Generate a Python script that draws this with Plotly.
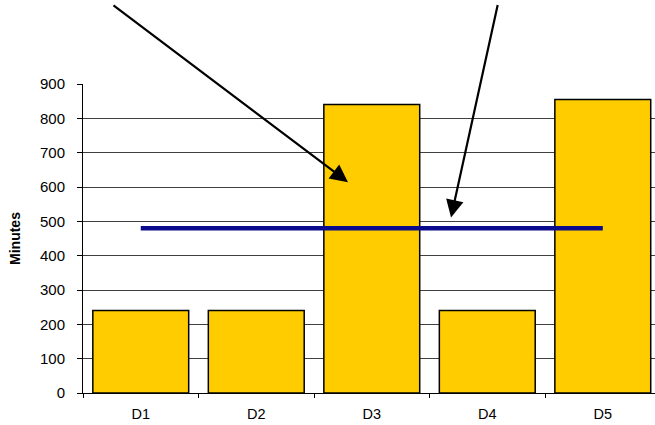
import plotly.graph_objects as go

# Daily minutes per day and the average line
days = ["D1", "D2", "D3", "D4", "D5"]
minutes = [240, 240, 840, 240, 855]
average = [480, 480, 480, 480, 480]

y_ticks = [0, 100, 200, 300, 400, 500, 600, 700, 800, 900]

FONT = "Liberation Sans, Arial, sans-serif"

fig = go.Figure()

fig.add_trace(go.Bar(
    x=days,
    y=minutes,
    marker=dict(color="#FFCC00", line=dict(color="#000000", width=1.5)),
    hoverinfo="x+y",
))

fig.add_trace(go.Scatter(
    x=days,
    y=average,
    mode="lines",
    line=dict(color="#0A0A8C", width=4.5),
    hoverinfo="y",
))

# Callout arrows pointing at the tall bar and at the average line
arrow_style = dict(
    text="", showarrow=True, arrowhead=2, arrowsize=1.6, arrowwidth=2.2,
    arrowcolor="#000000", xref="x", yref="y", axref="pixel", ayref="pixel",
)
fig.add_annotation(x=1.794, y=614, ax=-236, ay=-178, **arrow_style)
fig.add_annotation(x=2.686, y=511, ax=47, ay=-214, **arrow_style)

fig.update_layout(
    width=655,
    height=425,
    margin=dict(l=83, r=0, t=84, b=32),
    paper_bgcolor="#FFFFFF",
    plot_bgcolor="#FFFFFF",
    bargap=0.17,
    showlegend=False,
    font=dict(family=FONT, size=14, color="#000000"),
)

fig.update_xaxes(
    type="category",
    range=[-0.5, 4.452],
    showline=True, linecolor="#000000", linewidth=1,
    ticks="outside", ticklen=4, tickcolor="#000000",
    tickson="boundaries",
    showgrid=False,
    ticklabelstandoff=8,
    tickfont=dict(family=FONT, size=14.5, color="#000000"),
)

fig.update_yaxes(
    range=[0, 900],
    tickvals=y_ticks,
    showline=True, linecolor="#000000", linewidth=1,
    ticks="outside", ticklen=5, tickcolor="#000000",
    showgrid=True, gridcolor="#404040", gridwidth=1,
    zeroline=False,
    ticklabelstandoff=9,
    tickfont=dict(family=FONT, size=15, color="#000000"),
    title=dict(text="<b>Minutes</b>", font=dict(family=FONT, size=14, color="#000000"), standoff=16),
)

fig.write_html("out.html")
